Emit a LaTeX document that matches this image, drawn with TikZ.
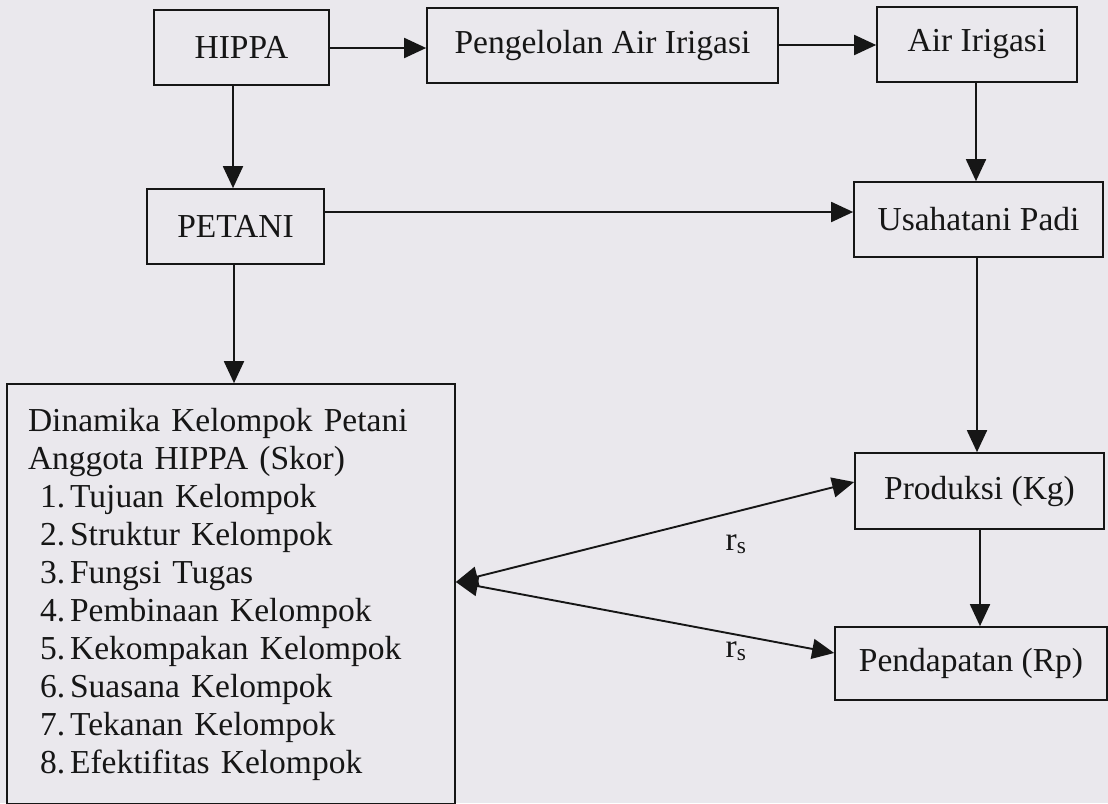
\documentclass[tikz,border=0pt]{standalone}
\usepackage{fontspec}
\setmainfont{Liberation Serif}
\usetikzlibrary{arrows.meta,calc}
\definecolor{paper}{RGB}{234,232,237}
\definecolor{ink}{RGB}{22,22,22}
\newcommand{\itm}[2]{\hspace*{12pt}#1.\hspace{5pt}#2}
\begin{document}
\begin{tikzpicture}[x=1pt,y=-1pt,
  box/.style={draw=ink, line width=1.7pt, rectangle, inner sep=0pt, text=ink,
    font=\fontsize{33.5}{38}\selectfont},
  lbl/.style={text=ink, inner sep=0pt, font=\fontsize{33.5}{38}\selectfont},
  arr/.style={draw=ink, line width=1.9pt, -{Triangle[length=22pt,width=20pt]}},
  darr/.style={draw=ink, line width=1.9pt,
    {Triangle[length=22pt,width=20pt]}-{Triangle[length=22pt,width=20pt]}}]
\fill[paper] (0,0) rectangle (1108,803);
\useasboundingbox (0,0) rectangle (1108,803);

\node[box, minimum width=175pt, minimum height=75pt] (hippa) at (241.5,47.5) {HIPPA};
\node[box, minimum width=351pt, minimum height=75pt] (peng) at (602.5,45.5) {Pengelolan Air Irigasi};
\node[box, minimum width=200pt, minimum height=75pt] (air) at (977,44.5) {Air Irigasi};
\node[box, minimum width=177pt, minimum height=75pt] (petani) at (235.5,226.5) {PETANI};
\node[box, minimum width=249pt, minimum height=75pt] (usaha) at (978.5,219.5) {Usahatani Padi};
\node[box, minimum width=448pt, minimum height=420pt, inner xsep=21pt,
      text width=406pt, align=left] (dyn) at (231,594)
  {Dinamika Kelompok Petani\\
   Anggota HIPPA (Skor)\\
   \itm{1}{Tujuan Kelompok}\\
   \itm{2}{Struktur Kelompok}\\
   \itm{3}{Fungsi Tugas}\\
   \itm{4}{Pembinaan Kelompok}\\
   \itm{5}{Kekompakan Kelompok}\\
   \itm{6}{Suasana Kelompok}\\
   \itm{7}{Tekanan Kelompok}\\
   \itm{8}{Efektifitas Kelompok}};
\node[box, minimum width=249pt, minimum height=76pt] (prod) at (979.5,491) {Produksi (Kg)};
\node[box, minimum width=272pt, minimum height=73pt] (pend) at (971,663.5) {Pendapatan (Rp)};

\draw[arr] (hippa.east |- 0,48) -- (peng.west |- 0,48);
\draw[arr] (peng.east |- 0,45) -- (air.west |- 0,45);
\draw[arr] (hippa.south -| 233,0) -- (petani.north -| 233,0);
\draw[arr] (air.south -| 976,0) -- (usaha.north -| 976,0);
\draw[arr] (petani.east |- 0,212) -- (usaha.west |- 0,212);
\draw[arr] (petani.south -| 234,0) -- (dyn.north -| 234,0);
\draw[arr] (usaha.south -| 977,0) -- (prod.north -| 977,0);
\draw[arr] (prod.south -| 980,0) -- (pend.north -| 980,0);

\coordinate (m) at (dyn.east |- 0,582);
\draw[darr] (m) -- (prod.west |- 0,482);
\draw[darr] (m) -- (pend.west |- 0,653);

\node[lbl, anchor=base] (rs1) at (736,550) {r\textsubscript{s}};
\node[lbl, anchor=base] (rs2) at (736,657) {r\textsubscript{s}};
\end{tikzpicture}
\end{document}
